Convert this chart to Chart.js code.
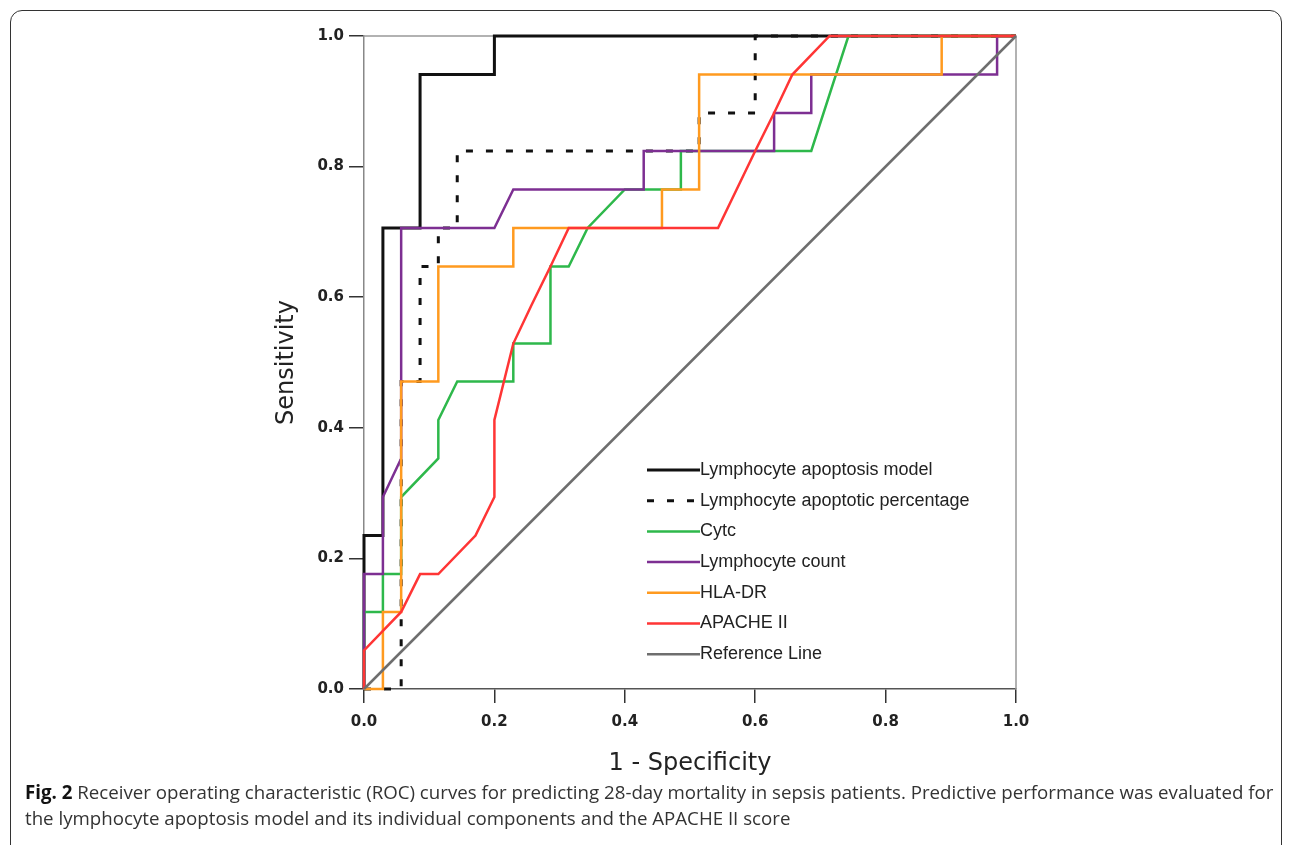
<!DOCTYPE html>
<html>
<head>
<meta charset="utf-8">
<script src="https://cdn.jsdelivr.net/npm/chart.js@4.4.1/dist/chart.umd.min.js"></script>
<style>
  body { margin: 0; background: #fff; }
  #card { position: absolute; left: 10px; top: 10px; width: 1270px; height: 860px;
          border: 1.5px solid #333; border-radius: 12px; }
  #wrap { position: absolute; left: 0; top: 0; width: 1292px; height: 845px; }
  #caption { position: absolute; left: 25px; top: 779px; width: 1265px; white-space: nowrap;
             font-family: "Open Sans", sans-serif; font-size: 18.7px; line-height: 26px; color: #333; }
  #caption b { color: #111; }
</style>
</head>
<body>
<div id="card"></div>
<div id="wrap"><canvas id="rocChart" width="1292" height="845"></canvas></div>
<div id="caption"><b>Fig. 2</b> Receiver operating characteristic (ROC) curves for predicting 28-day mortality in sepsis patients. Predictive performance was evaluated for<br>the lymphocyte apoptosis model and its individual components and the APACHE II score</div>
<script>
// 1 - specificity (x) and sensitivity (y)
const tickLabels = ['0.0', '0.2', '0.4', '0.6', '0.8', '1.0'];

const modelX = [0, 0, 0.029, 0.029, 0.086, 0.086, 0.2, 0.2, 1];
const modelY = [0, 0.235, 0.235, 0.706, 0.706, 0.941, 0.941, 1, 1];

const percentX = [0, 0.057, 0.057, 0.086, 0.086, 0.114, 0.114, 0.143, 0.143, 0.514, 0.514, 0.6, 0.6, 1];
const percentY = [0, 0, 0.471, 0.471, 0.647, 0.647, 0.706, 0.706, 0.824, 0.824, 0.882, 0.882, 1, 1];

const cytcX = [0, 0, 0.029, 0.029, 0.057, 0.057, 0.114, 0.114, 0.143, 0.229, 0.229, 0.286, 0.286, 0.314, 0.343, 0.4, 0.486, 0.486, 0.686, 0.743, 1];
const cytcY = [0, 0.118, 0.118, 0.176, 0.176, 0.294, 0.353, 0.412, 0.471, 0.471, 0.529, 0.529, 0.647, 0.647, 0.706, 0.765, 0.765, 0.824, 0.824, 1, 1];

const countX = [0, 0, 0.029, 0.029, 0.057, 0.057, 0.2, 0.229, 0.429, 0.429, 0.629, 0.629, 0.686, 0.686, 0.971, 0.971, 1];
const countY = [0, 0.176, 0.176, 0.294, 0.353, 0.706, 0.706, 0.765, 0.765, 0.824, 0.824, 0.882, 0.882, 0.941, 0.941, 1, 1];

const hlaX = [0, 0.029, 0.029, 0.057, 0.057, 0.114, 0.114, 0.229, 0.229, 0.457, 0.457, 0.514, 0.514, 0.886, 0.886, 1];
const hlaY = [0, 0, 0.118, 0.118, 0.471, 0.471, 0.647, 0.647, 0.706, 0.706, 0.765, 0.765, 0.941, 0.941, 1, 1];

const apacheX = [0, 0, 0.057, 0.086, 0.114, 0.171, 0.2, 0.2, 0.229, 0.257, 0.286, 0.314, 0.543, 0.6, 0.629, 0.657, 0.714, 1];
const apacheY = [0, 0.059, 0.118, 0.176, 0.176, 0.235, 0.294, 0.412, 0.529, 0.588, 0.647, 0.706, 0.706, 0.824, 0.882, 0.941, 1, 1];

const refX = [0, 1];
const refY = [0, 1];

function pts(xs, ys) {
    return xs.map((x, i) => ({ x: x, y: ys[i] }));
}

function series(label, xs, ys, color, width, order, dash) {
    return {
        label: label,
        data: pts(xs, ys),
        borderColor: color,
        borderWidth: width,
        borderDash: dash || [],
        pointRadius: 0,
        tension: 0,
        fill: false,
        clip: 4,
        order: order
    };
}

// frame on top/right + legend inside the plot
const extras = {
    id: 'extras',
    beforeDatasetsDraw(chart) {
        const a = chart.chartArea, ctx = chart.ctx;
        ctx.save();
        ctx.strokeStyle = '#999';
        ctx.lineWidth = 1.5;
        ctx.beginPath();
        ctx.moveTo(a.left, a.top);
        ctx.lineTo(a.right, a.top);
        ctx.lineTo(a.right, a.bottom);
        ctx.stroke();
        ctx.restore();
    },
    afterDraw(chart) {
        const ctx = chart.ctx;
        ctx.save();
        ctx.font = '18px "Liberation Sans", Arial, sans-serif';
        ctx.textBaseline = 'middle';
        ctx.fillStyle = '#222';
        chart.data.datasets.forEach((ds, i) => {
            const y = 470 + i * 30.7;
            ctx.strokeStyle = ds.borderColor;
            ctx.lineWidth = ds.borderWidth;
            ctx.setLineDash(ds.borderDash);
            ctx.beginPath();
            ctx.moveTo(647, y);
            ctx.lineTo(700, y);
            ctx.stroke();
            ctx.setLineDash([]);
            ctx.fillText(ds.label, 700, y);
        });
        ctx.restore();
    }
};

const tickFont = { family: '"DejaVu Sans", sans-serif', size: 15, weight: 'bold' };
const titleFont = { family: '"DejaVu Sans", sans-serif', size: 24 };

new Chart(document.getElementById('rocChart'), {
    type: 'line',
    data: {
        datasets: [
            series('Lymphocyte apoptosis model', modelX, modelY, '#111111', 3, 7),
            series('Lymphocyte apoptotic percentage', percentX, percentY, '#111111', 3, 6, [7, 13]),
            series('Cytc', cytcX, cytcY, '#2eb84b', 2.5, 5),
            series('Lymphocyte count', countX, countY, '#7d2f92', 2.5, 4),
            series('HLA-DR', hlaX, hlaY, '#ff9a1f', 2.5, 3),
            series('APACHE II', apacheX, apacheY, '#ff3535', 2.5, 2),
            series('Reference Line', refX, refY, '#6e6e6e', 2.5, 1)
        ]
    },
    options: {
        responsive: false,
        animation: false,
        layout: { padding: { left: 272, right: 276, top: 36, bottom: 67 } },
        plugins: { legend: { display: false }, tooltip: { enabled: false } },
        scales: {
            x: {
                type: 'linear', min: 0, max: 1,
                afterFit(s) { s.height = 89; },
                border: { color: '#555', width: 1.5 },
                grid: { drawOnChartArea: false, color: '#333', lineWidth: 1.5, tickLength: 14 },
                ticks: { stepSize: 0.2, padding: 10, color: '#222', font: tickFont,
                         callback: (v, i) => tickLabels[i] },
                title: { display: true, text: '1 - Specificity', color: '#222', font: titleFont,
                         padding: { top: 0, bottom: 0 } }
            },
            y: {
                type: 'linear', min: 0, max: 1,
                afterFit(s) { s.width = 92; },
                border: { color: '#888', width: 1.5 },
                grid: { drawOnChartArea: false, color: '#333', lineWidth: 1.5, tickLength: 15 },
                ticks: { stepSize: 0.2, padding: 5, color: '#222', font: tickFont,
                         callback: (v, i) => tickLabels[i] },
                title: { display: true, text: 'Sensitivity', color: '#222', font: titleFont,
                         padding: { top: 0, bottom: 0 } }
            }
        }
    },
    plugins: [extras]
});
</script>
</body>
</html>
